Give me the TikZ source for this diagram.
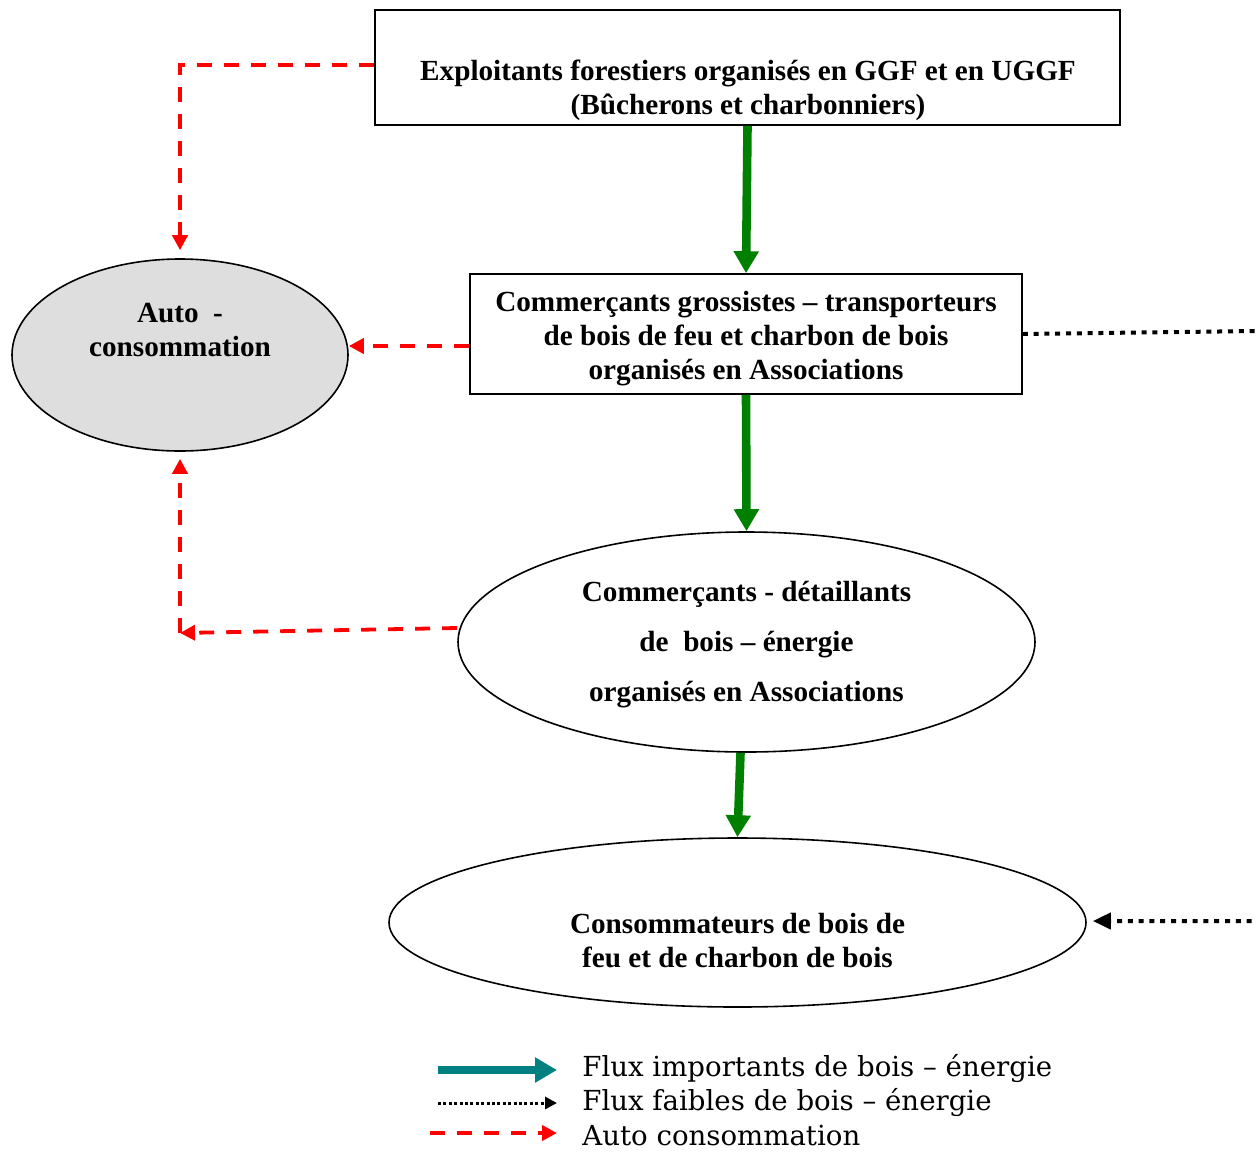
\documentclass[tikz,border=0pt]{standalone}
\usepackage{fontspec}
\setmainfont{Liberation Serif}
\newfontfamily\legendfont{DejaVu Serif}
\usepackage{xcolor}
\usepackage{tikz}
\usetikzlibrary{arrows.meta,positioning,calc,shapes.geometric}
\definecolor{Ink}{HTML}{000000}
\definecolor{FlowGreen}{HTML}{008000}
\definecolor{FlowTeal}{HTML}{008080}
\definecolor{SelfRed}{HTML}{FF0000}
\definecolor{AutoGrey}{HTML}{DEDEDE}
\tikzset{
  actor/.style={draw=Ink,line width=0.8pt,fill=white,inner sep=0pt,align=center,font=\fontsize{14.6}{17}\selectfont\bfseries},
  actorbox/.style={actor,rectangle},
  actorell/.style={actor,ellipse},
  label/.style={align=center,font=\fontsize{14.6}{17}\selectfont\bfseries,inner sep=0pt},
  bigflow/.style={-{Triangle[length=11pt,width=12pt]},line width=4.3pt,draw=FlowGreen},
  weakflow/.style={-{Triangle[length=9pt,width=8pt]},line width=2pt,draw=Ink,dash pattern=on 2.5pt off 2.9pt},
  selfuse/.style={-{Triangle[length=7.5pt,width=7.5pt]},line width=1.9pt,draw=SelfRed,dash pattern=on 7.5pt off 6pt},
  legtext/.style={anchor=west,inner sep=0pt,font=\legendfont\fontsize{13.8}{16}\selectfont}
}
\begin{document}
\begin{tikzpicture}[x=0.5pt,y=-0.5pt]
  \useasboundingbox (0,0) rectangle (1256,1151);
  % actors
  \node[actorbox,minimum width=372.5pt,minimum height=57.5pt] (exploit) at (747.5,67.5) {};
  \node[label] (exploittxt) at (748,90) {Exploitants forestiers organisés en GGF et en UGGF\\(Bûcherons et charbonniers)};
  \node[actorbox,minimum width=276pt,minimum height=60pt] (gross) at (746,334) {};
  \node[label] (grosstxt) at (746,339) {Commerçants grossistes – transporteurs\\de bois de feu et charbon de bois\\organisés en Associations};
  \node[actorell,fill=AutoGrey,minimum width=168pt,minimum height=96pt] (auto) at (180,355) {};
  \node[label] (autotxt) at (180,330) {Auto~~-\\consommation};
  \node[actorell,minimum width=288.5pt,minimum height=110pt] (detail) at (746.5,642) {};
  \node[label,font=\fontsize{14.6}{25}\selectfont\bfseries] (detailtxt) at (746.5,645) {Commerçants - détaillants\\de~~bois – énergie\\organisés en Associations};
  \node[actorell,minimum width=348.5pt,minimum height=84.5pt] (consum) at (737.5,922.5) {};
  \node[label] (consumtxt) at (737.5,941) {Consommateurs de bois de\\feu et de charbon de bois};
  % flows
  \draw[bigflow] (exploit.south) -- (gross.north);
  \draw[bigflow] (gross.south) -- (detail.north);
  \draw[bigflow] ([xshift=-3pt]detail.south) -- (consum.north);
  % auto consommation
  \coordinate (corner) at (180,633);
  \draw[selfuse,shorten >=4pt] ([yshift=1.2pt]exploit.west) -| (auto.north);
  \draw[selfuse] ([yshift=-6pt]gross.west) -- ([yshift=-6pt]gross.west -| auto.east);
  \draw[selfuse] ([yshift=7pt]detail.west) -- (corner);
  \draw[selfuse,shorten >=3.5pt] (corner) -- (auto.south);
  % weak flow along the edge
  \coordinate (edgetop) at (1258,331);
  \coordinate (edgebot) at (1258,921);
  \draw[weakflow,shorten >=3pt] (gross.east) -- (edgetop) -- (edgebot) -- (consum.east |- edgebot);
  % legend
  \coordinate (lega) at (438,1070);
  \coordinate (legb) at (557,1070);
  \coordinate (legc) at (438,1103);
  \coordinate (legd) at (557,1103);
  \coordinate (lege) at (430,1133);
  \coordinate (legf) at (557,1133);
  \draw[bigflow,draw=FlowTeal] (lega) -- (legb);
  \draw[weakflow,line width=1.5pt,dash pattern=on 1.5pt off 1.2pt,-{Triangle[length=6pt,width=6pt]}] (legc) -- (legd);
  \draw[selfuse] (lege) -- (legf);
  \node[legtext] (leg1) at (582,1069) {Flux importants de bois – énergie};
  \node[legtext] (leg2) at (582,1103) {Flux faibles de bois – énergie};
  \node[legtext] (leg3) at (582,1136) {Auto consommation};
\end{tikzpicture}
\end{document}
